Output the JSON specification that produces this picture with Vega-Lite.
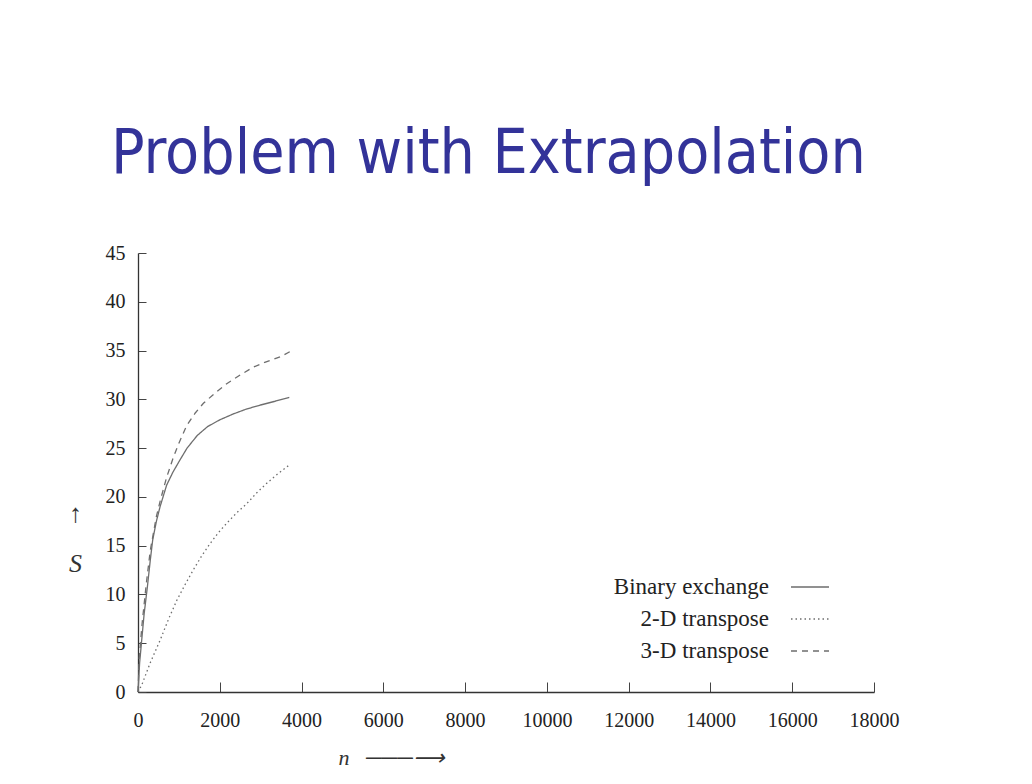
{
  "$schema": "https://vega.github.io/schema/vega-lite/v6.json",
  "width": 736,
  "height": 439,
  "autosize": "none",
  "padding": {"left": 138, "top": 253, "right": 158, "bottom": 92},
  "background": "white",
  "title": {
    "text": "Problem with Extrapolation",
    "font": "DejaVu Sans Condensed",
    "fontSize": 62,
    "fontWeight": "normal",
    "color": "#333399",
    "anchor": "start",
    "frame": "group",
    "dx": -27,
    "offset": 8,
    "baseline": "alphabetic"
  },
  "data": {
    "values": [
      {"series": "Binary exchange", "n": 0, "S": 0},
      {"series": "Binary exchange", "n": 40, "S": 3},
      {"series": "Binary exchange", "n": 90, "S": 5.3},
      {"series": "Binary exchange", "n": 150, "S": 8},
      {"series": "Binary exchange", "n": 230, "S": 10.8},
      {"series": "Binary exchange", "n": 300, "S": 13.5},
      {"series": "Binary exchange", "n": 360, "S": 15.6},
      {"series": "Binary exchange", "n": 450, "S": 17.5},
      {"series": "Binary exchange", "n": 540, "S": 19},
      {"series": "Binary exchange", "n": 700, "S": 21.2},
      {"series": "Binary exchange", "n": 850, "S": 22.5},
      {"series": "Binary exchange", "n": 1000, "S": 23.6},
      {"series": "Binary exchange", "n": 1200, "S": 25.0},
      {"series": "Binary exchange", "n": 1450, "S": 26.3},
      {"series": "Binary exchange", "n": 1700, "S": 27.2},
      {"series": "Binary exchange", "n": 2000, "S": 27.9},
      {"series": "Binary exchange", "n": 2330, "S": 28.5},
      {"series": "Binary exchange", "n": 2650, "S": 29.0},
      {"series": "Binary exchange", "n": 2980, "S": 29.4},
      {"series": "Binary exchange", "n": 3350, "S": 29.8},
      {"series": "Binary exchange", "n": 3700, "S": 30.2},
      {"series": "2-D transpose", "n": 0, "S": 0},
      {"series": "2-D transpose", "n": 90, "S": 0.7},
      {"series": "2-D transpose", "n": 300, "S": 3},
      {"series": "2-D transpose", "n": 540, "S": 5.3},
      {"series": "2-D transpose", "n": 750, "S": 7.5},
      {"series": "2-D transpose", "n": 950, "S": 9.4},
      {"series": "2-D transpose", "n": 1150, "S": 11},
      {"series": "2-D transpose", "n": 1350, "S": 12.5},
      {"series": "2-D transpose", "n": 1550, "S": 13.9},
      {"series": "2-D transpose", "n": 1760, "S": 15.2},
      {"series": "2-D transpose", "n": 1960, "S": 16.3},
      {"series": "2-D transpose", "n": 2170, "S": 17.3},
      {"series": "2-D transpose", "n": 2420, "S": 18.4},
      {"series": "2-D transpose", "n": 2660, "S": 19.3},
      {"series": "2-D transpose", "n": 2900, "S": 20.4},
      {"series": "2-D transpose", "n": 3150, "S": 21.4},
      {"series": "2-D transpose", "n": 3400, "S": 22.3},
      {"series": "2-D transpose", "n": 3680, "S": 23.2},
      {"series": "3-D transpose", "n": 0, "S": 0},
      {"series": "3-D transpose", "n": 30, "S": 3.5},
      {"series": "3-D transpose", "n": 100, "S": 7},
      {"series": "3-D transpose", "n": 200, "S": 11},
      {"series": "3-D transpose", "n": 300, "S": 14.5},
      {"series": "3-D transpose", "n": 450, "S": 18},
      {"series": "3-D transpose", "n": 550, "S": 19.7},
      {"series": "3-D transpose", "n": 700, "S": 22},
      {"series": "3-D transpose", "n": 860, "S": 24},
      {"series": "3-D transpose", "n": 1000, "S": 25.5},
      {"series": "3-D transpose", "n": 1190, "S": 27.3},
      {"series": "3-D transpose", "n": 1400, "S": 28.6},
      {"series": "3-D transpose", "n": 1600, "S": 29.6},
      {"series": "3-D transpose", "n": 1900, "S": 30.7},
      {"series": "3-D transpose", "n": 2170, "S": 31.6},
      {"series": "3-D transpose", "n": 2500, "S": 32.5},
      {"series": "3-D transpose", "n": 2820, "S": 33.3},
      {"series": "3-D transpose", "n": 3100, "S": 33.8},
      {"series": "3-D transpose", "n": 3310, "S": 34.1},
      {"series": "3-D transpose", "n": 3500, "S": 34.4},
      {"series": "3-D transpose", "n": 3720, "S": 34.9}
    ]
  },
  "mark": {"type": "line", "color": "#6e6e6e", "strokeWidth": 1.3},
  "encoding": {
    "x": {
      "field": "n",
      "type": "quantitative",
      "scale": {"domain": [0, 18000], "nice": false},
      "axis": {
        "values": [0, 2000, 4000, 6000, 8000, 10000, 12000, 14000, 16000, 18000],
        "format": "d",
        "grid": false,
        "domainColor": "#333",
        "domainWidth": 1.3,
        "tickColor": "#444",
        "tickSize": -10,
        "labelFont": "Liberation Serif",
        "labelFontSize": 20,
        "labelColor": "#222",
        "labelPadding": 28,
        "labelFlush": false,
        "labelOverlap": false,
        "title": "n\u00a0\u00a0\u00a0───⟶",
        "titleFont": "Liberation Serif",
        "titleFontStyle": "italic",
        "titleFontWeight": "normal",
        "titleFontSize": 22,
        "titleColor": "#333",
        "titleAnchor": "start",
        "titleAlign": "left",
        "titleX": 200,
        "titleY": 72,
        "titleBaseline": "alphabetic"
      }
    },
    "y": {
      "field": "S",
      "type": "quantitative",
      "scale": {"domain": [0, 45], "nice": false},
      "axis": {
        "values": [0, 5, 10, 15, 20, 25, 30, 35, 40, 45],
        "grid": false,
        "domainColor": "#333",
        "domainWidth": 1.3,
        "tickColor": "#444",
        "tickSize": -8,
        "labelFont": "Liberation Serif",
        "labelFontSize": 20,
        "labelColor": "#222",
        "labelPadding": 21,
        "labelFlush": false,
        "labelOverlap": false,
        "title": ["↑", "S"],
        "titleFont": "Liberation Serif",
        "titleFontStyle": "italic",
        "titleFontWeight": "normal",
        "titleFontSize": 26,
        "titleColor": "#333",
        "titleAngle": 0,
        "titleAlign": "center",
        "titleX": -63,
        "titleY": 268,
        "titleBaseline": "alphabetic",
        "titleLineHeight": 50
      }
    },
    "strokeDash": {
      "field": "series",
      "type": "nominal",
      "scale": {
        "domain": ["Binary exchange", "2-D transpose", "3-D transpose"],
        "range": [[1, 0], [1.5, 3], [6, 5]]
      },
      "legend": {
        "title": null,
        "orient": "none",
        "legendX": 652,
        "legendY": 314,
        "padding": 0,
        "symbolType": "stroke",
        "symbolSize": 1444,
        "symbolStrokeWidth": 1.3,
        "symbolStrokeColor": "#6e6e6e",
        "labelFont": "Liberation Serif",
        "labelFontSize": 23,
        "labelColor": "#222",
        "labelAlign": "right",
        "labelOffset": -61,
        "rowPadding": -10
      }
    }
  },
  "config": {"view": {"stroke": null}}
}
